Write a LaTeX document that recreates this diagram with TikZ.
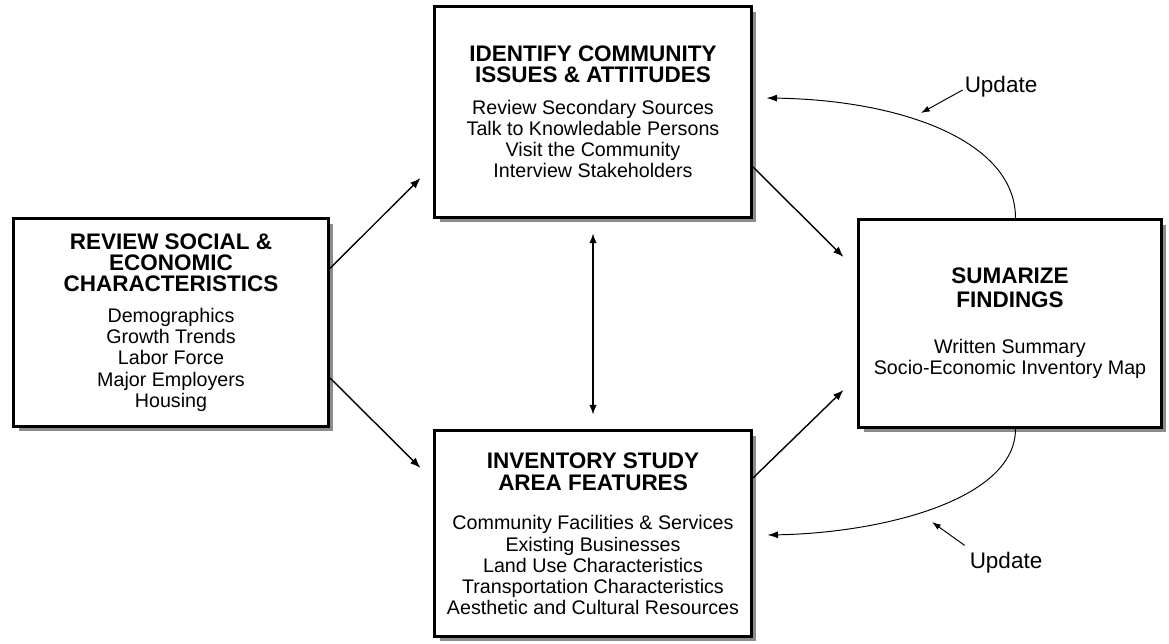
\documentclass[tikz,border=0pt]{standalone}
\usepackage{fontspec}
\setmainfont{Liberation Sans}
\usetikzlibrary{shapes,arrows.meta,shadows}
\newcommand{\stagetitle}{\fontsize{12.8}{13}\selectfont\bfseries}
\newcommand{\stagebody}{\fontsize{11.2}{12.3}\selectfont\mdseries}
\tikzstyle{stage} = [rectangle, draw=black, line width=0.06cm, fill=white, align=center, inner sep=0pt, drop shadow={shadow xshift=0.1cm, shadow yshift=-0.1cm, fill=black!45, opacity=1}]
\tikzstyle{arrow} = [-{Latex[length=6pt,width=4.5pt]}, line width=0.8pt]
\tikzstyle{both} = [{Latex[length=5.5pt,width=4.2pt]}-{Latex[length=5.5pt,width=4.2pt]}, line width=0.65pt]
\tikzstyle{feedback} = [-{Latex[length=6pt,width=4pt]}, line width=0.55pt]
\tikzstyle{pointer} = [-{Latex[length=5pt,width=3.5pt]}, line width=0.55pt]
\tikzstyle{note} = [font=\fontsize{12.8}{15}\selectfont, inner sep=1pt]

\begin{document}
\begin{tikzpicture}[x=0.02cm, y=-0.02cm]
\useasboundingbox (0,0) rectangle (1169,644);

\node[stage, minimum width=6.3cm, minimum height=4.16cm] (review) at (171,322.5)
  {\stagetitle REVIEW SOCIAL \& \\ \stagetitle ECONOMIC \\ \stagetitle CHARACTERISTICS \\[0.2cm]
   \stagebody Demographics \\ \stagebody Growth Trends \\ \stagebody Labor Force \\ \stagebody Major Employers \\ \stagebody Housing};
\node[stage, minimum width=6.34cm, minimum height=4.22cm] (identify) at (593,112)
  {\stagetitle IDENTIFY COMMUNITY \\ \stagetitle ISSUES \& ATTITUDES \\[0.22cm]
   \stagebody Review Secondary Sources \\ \stagebody Talk to Knowledable Persons \\ \stagebody Visit the Community \\ \stagebody Interview Stakeholders};
\node[stage, minimum width=6.34cm, minimum height=4.12cm] (inventory) at (593,533.5)
  {\stagetitle INVENTORY STUDY \\[0.03cm] \stagetitle AREA FEATURES \\[0.36cm]
   \stagebody Community Facilities \& Services \\ \stagebody Existing Businesses \\ \stagebody Land Use Characteristics \\ \stagebody Transportation Characteristics \\ \stagebody Aesthetic and Cultural Resources};
\node[stage, minimum width=6.06cm, minimum height=4.16cm] (summarize) at (1010,323.5)
  {\stagetitle SUMARIZE \\[0.05cm] \stagetitle FINDINGS \\[0.5cm]
   \stagebody Written Summary \\ \stagebody Socio-Economic Inventory Map};

% flow between stages
\draw[arrow] ([yshift=1.08cm]review.east) -- ([shift={(-0.25cm,-1.32cm)}]identify.west);
\draw[arrow] ([yshift=-1.11cm]review.east) -- ([shift={(-0.25cm,1.31cm)}]inventory.west);
\draw[arrow] ([yshift=-1.1cm]identify.east) -- ([shift={(-0.27cm,1.33cm)}]summarize.west);
\draw[arrow] ([yshift=1.11cm]inventory.east) -- ([shift={(-0.27cm,-1.33cm)}]summarize.west);
\draw[both] ([yshift=-0.29cm]identify.south) -- ([yshift=0.29cm]inventory.north);

% update loops
\draw[feedback] ([xshift=0.11cm]summarize.north) .. controls +(0,-77) and +(135,2) .. ([shift={(0.27cm,0.28cm)}]identify.east);
\draw[feedback] ([xshift=0.11cm]summarize.south) .. controls +(0,71) and +(114,-2) .. ([shift={(0.29cm,-0.03cm)}]inventory.east);

\node[note] (update_top) at (1001,87) {Update};
\node[note] (update_bottom) at (1006,563) {Update};
\coordinate (ptr_top) at (921,113);
\coordinate (ptr_bottom) at (932,522);
\draw[pointer] ([yshift=-0.06cm]update_top.west) -- (ptr_top);
\draw[pointer] ([shift={(-0.06cm,0.1cm)}]update_bottom.north west) -- (ptr_bottom);
\end{tikzpicture}
\end{document}
